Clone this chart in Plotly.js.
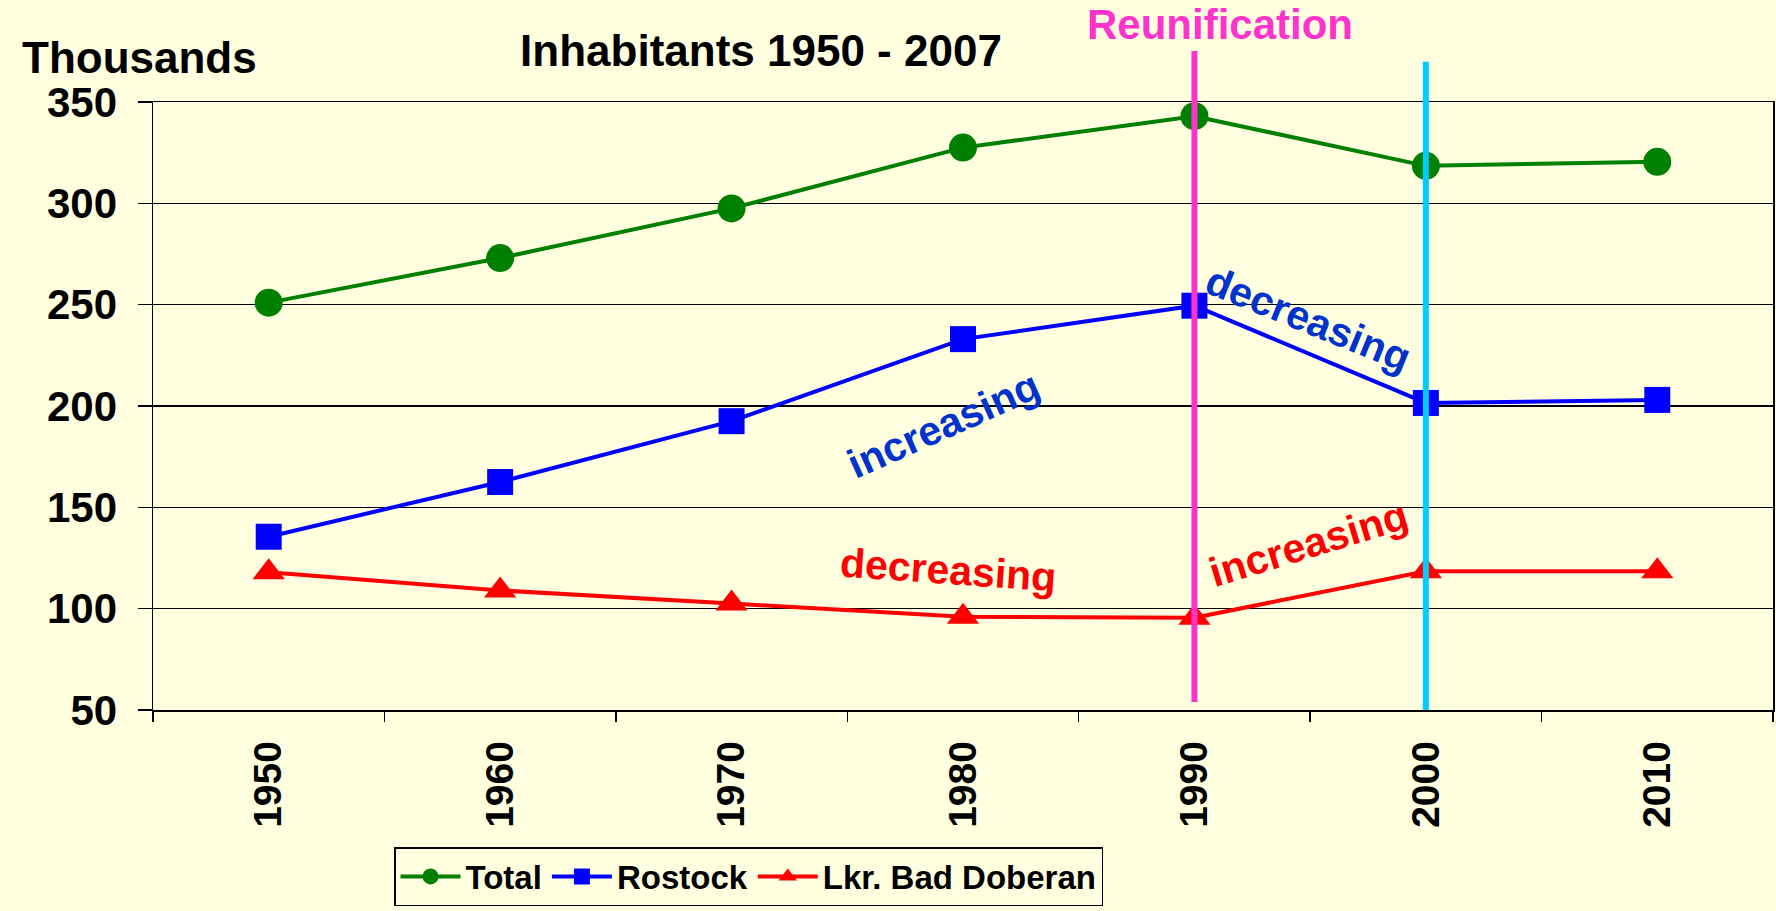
<!DOCTYPE html>
<html>
<head>
<meta charset="utf-8">
<script src="https://cdn.plot.ly/plotly-3.0.1.min.js"></script>
<style>html,body{margin:0;padding:0;background:#FFFFE0;}#chart{width:1776px;height:911px;}</style>
</head>
<body>
<div id="chart"></div>
<script>
const years = ['1950', '1960', '1970', '1980', '1990', '2000', '2010'];
const total = [251, 273, 297.5, 327.5, 343, 318.5, 320.5];
const rostock = [135.5, 162.5, 192.5, 233, 249.5, 201.5, 203];
const badDoberan = [118, 109, 102.5, 96, 95.5, 118.5, 118.5];
const seriesNames = ['Total', 'Rostock', 'Lkr. Bad Doberan'];
const reunificationYear = '1990';
const markerYear = '2000';
const yTicks = [50, 100, 150, 200, 250, 300, 350];

const FONT = 'Liberation Sans, Arial, sans-serif';
const BG = '#FFFFE0';
const reunIdx = years.indexOf(reunificationYear);
const markIdx = years.indexOf(markerYear);

const traces = [
  {x: years, y: total, name: seriesNames[0], type: 'scatter', mode: 'lines+markers',
   line: {color: '#008000', width: 4}, marker: {symbol: 'circle', size: 28, color: '#008000'}},
  {x: years, y: rostock, name: seriesNames[1], type: 'scatter', mode: 'lines+markers',
   line: {color: '#0000FF', width: 4}, marker: {symbol: 'square', size: 26, color: '#0000FF'}},
  {x: years, y: badDoberan, name: seriesNames[2], type: 'scatter', mode: 'lines+markers',
   line: {color: '#FF0000', width: 4}, marker: {symbol: 'triangle-up', size: 28, color: '#FF0000'}}
];

function ann(text, x, y, angle, color) {
  return {text: '<b>' + text + '</b>', xref: 'paper', yref: 'paper', x: x, y: y, textangle: angle,
          xanchor: 'center', yanchor: 'middle', showarrow: false,
          font: {family: FONT, size: 41, color: color}};
}

const layout = {
  width: 1776, height: 911,
  paper_bgcolor: BG, plot_bgcolor: BG,
  margin: {l: 153, r: 3, t: 102, b: 201, autoexpand: false},
  font: {family: FONT, color: '#000', size: 34},
  showlegend: true,
  title: {text: '<b>Inhabitants 1950 - 2007</b>', font: {family: FONT, size: 44, color: '#000'},
          x: 761/1776, xref: 'container', xanchor: 'center', y: 1 - 51/911, yref: 'container', yanchor: 'middle'},
  xaxis: {
    type: 'category', categoryorder: 'array', categoryarray: years,
    range: [-0.5, 6.5], tickson: 'boundaries',
    showgrid: false, showline: true, linecolor: '#000', linewidth: 1.5, mirror: true,
    ticks: 'outside', ticklen: 10, tickwidth: 1.5, tickcolor: '#000',
    tickangle: -90, ticklabelstandoff: 14,
    tickfont: {family: FONT, size: 39, color: '#000', weight: 'bold'},
    zeroline: false, automargin: false
  },
  yaxis: {
    range: [50, 350], tickvals: yTicks, ticktext: yTicks.map(String),
    showgrid: true, gridcolor: '#000', gridwidth: 1.5,
    showline: true, linecolor: '#000', linewidth: 1.5, mirror: true,
    ticks: 'outside', ticklen: 14, tickwidth: 1.5, tickcolor: '#000',
    ticklabelstandoff: 12,
    tickfont: {family: FONT, size: 42, color: '#000', weight: 'bold'},
    zeroline: false, automargin: false
  },
  legend: {
    orientation: 'h', x: (394-153)/1620, xanchor: 'left', yref: 'container', y: 1 - 906/911, yanchor: 'bottom',
    bgcolor: BG, bordercolor: '#000', borderwidth: 1.5,
    font: {family: FONT, size: 33, color: '#000', weight: 'bold'},
    itemwidth: 60, tracegroupgap: 0
  },
  shapes: [
    {type: 'line', xref: 'x', yref: 'paper', x0: reunIdx, x1: reunIdx,
     y0: 0.013, y1: 1.084, line: {color: '#FF33CC', width: 6}, layer: 'above'},
    {type: 'line', xref: 'x', yref: 'paper', x0: markIdx, x1: markIdx,
     y0: 0, y1: 1.066, line: {color: '#00CCFF', width: 6}, layer: 'above'}
  ],
  annotations: [
    {text: '<b>Thousands</b>', xref: 'paper', yref: 'paper', x: (20-153)/1620, y: 1.074,
     xanchor: 'left', yanchor: 'middle', showarrow: false, font: {family: FONT, size: 44, color: '#000'}},
    {text: '<b>Reunification</b>', xref: 'x', yref: 'paper', x: reunIdx, xshift: 26, y: 1.127,
     xanchor: 'center', yanchor: 'middle', showarrow: false, font: {family: FONT, size: 42, color: '#FF33CC'}},
    ann('increasing', 0.4877, 0.469, -24, '#0033CC'),
    ann('decreasing', 0.713, 0.643, 22, '#0033CC'),
    ann('decreasing', 0.491, 0.230, 4, '#FF0000'),
    ann('increasing', 0.713, 0.273, -17, '#FF0000')
  ]
};

Plotly.newPlot('chart', traces, layout, {displayModeBar: false, staticPlot: true});
</script>
</body>
</html>
